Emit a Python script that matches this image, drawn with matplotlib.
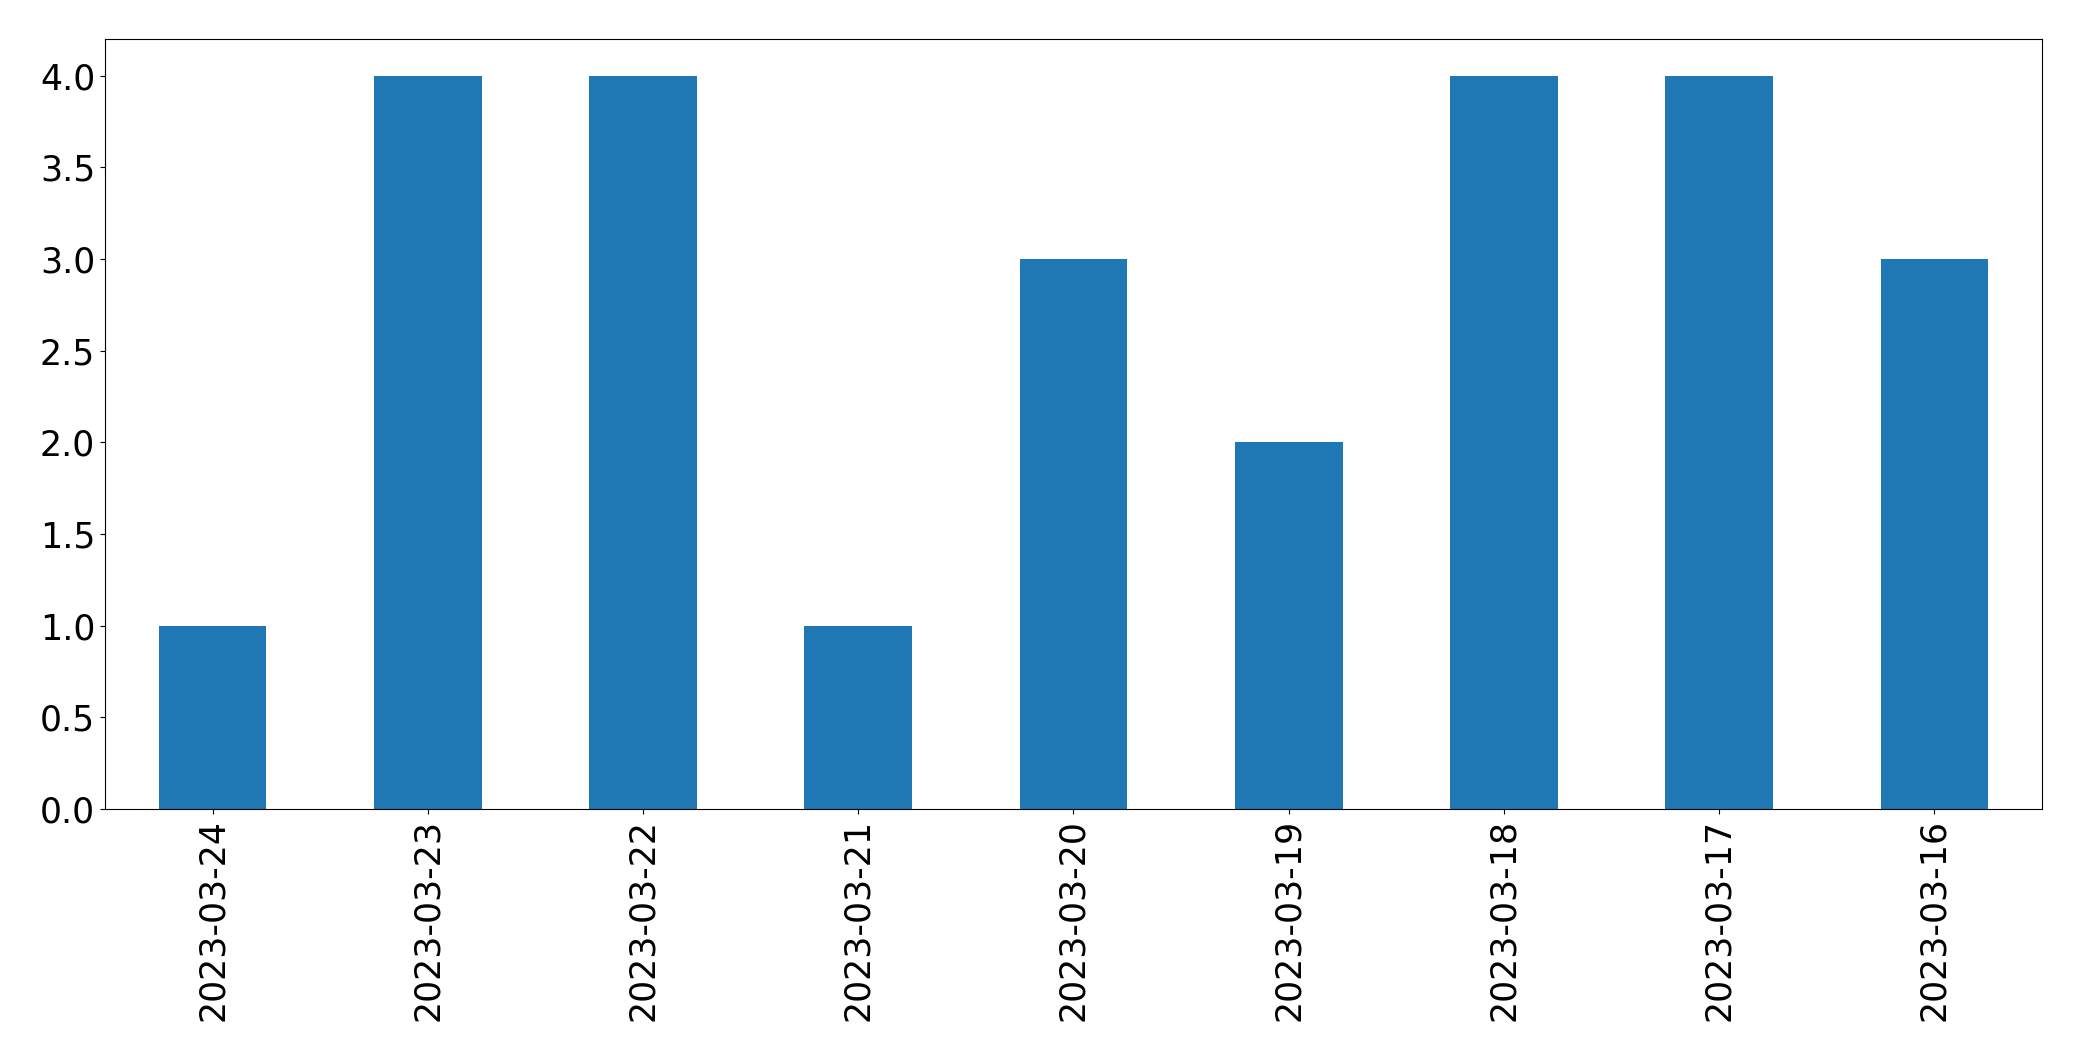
import matplotlib
matplotlib.use("Agg")
import matplotlib.pyplot as plt
import pandas as pd

dates = ["2023-03-24", "2023-03-23", "2023-03-22", "2023-03-21", "2023-03-20",
         "2023-03-19", "2023-03-18", "2023-03-17", "2023-03-16"]
counts = [1, 4, 4, 1, 3, 2, 4, 4, 3]

s = pd.Series(counts, index=dates)

fig = plt.figure(figsize=(20.82, 10.61), dpi=100)
ax = fig.add_axes([0.0504, 0.2375, 0.9304, 0.7257])
s.plot(kind="bar", ax=ax, color="#1f77b4")
ax.tick_params(axis="both", labelsize=25)
ax.set_xlabel("")

fig.savefig("out.png", dpi=100)
